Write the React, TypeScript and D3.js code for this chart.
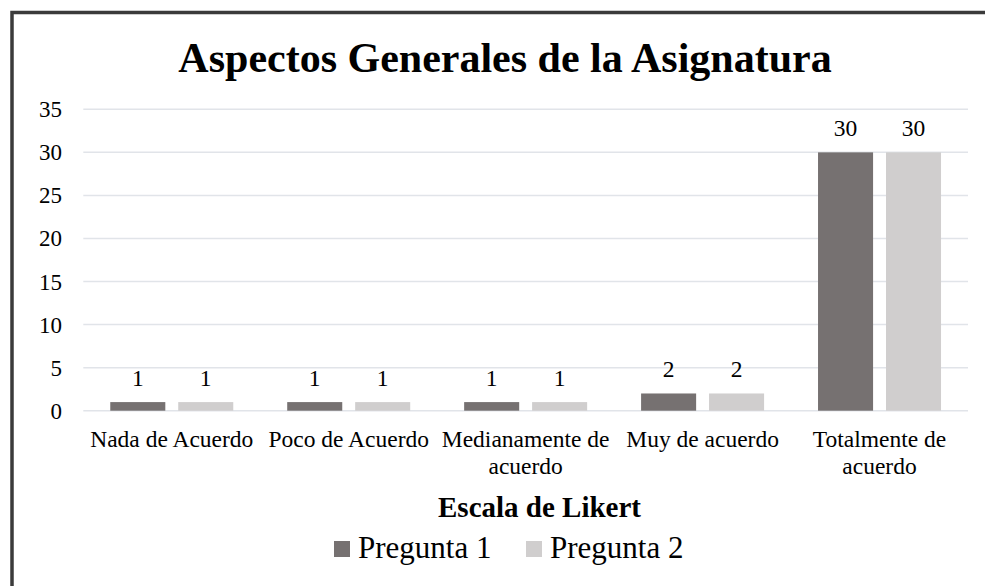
import React from 'react';
import * as d3 from 'd3';

const categories = [
  ['Nada de Acuerdo'],
  ['Poco de Acuerdo'],
  ['Medianamente de', 'acuerdo'],
  ['Muy de acuerdo'],
  ['Totalmente de', 'acuerdo'],
];
const seriesNames = ['Pregunta 1', 'Pregunta 2'];
const pregunta1 = [1, 1, 1, 2, 30];
const pregunta2 = [1, 1, 1, 2, 30];
const yTicks = [0, 5, 10, 15, 20, 25, 30, 35];

const colors = ['#767171', '#d0cece'];
const font = '"Liberation Serif", "Times New Roman", serif';

export default function App() {
  const width = 985;
  const height = 586;
  const left = 83.3;
  const right = 968;
  const top = 109.3;
  const bottom = 410.7;

  const keys = categories.map((c) => c.join(' '));
  const x0 = d3.scaleBand<string>().domain(keys).range([left, right]).padding(0);
  const groupW = 123;
  const x1 = d3.scaleBand<string>().domain(seriesNames).range([0, groupW]).paddingInner(0.19);
  const y = d3.scaleLinear().domain([0, 35]).range([bottom, top]);

  const series = [pregunta1, pregunta2];

  return (
    <svg
      width={width}
      height={height}
      style={{ position: 'absolute', left: 0, top: 0, display: 'block' }}
      fontFamily={font}
    >
      <rect x={0} y={0} width={width} height={height} fill="#fff" />
      {/* outer frame: only left and top edges are in view */}
      <path d={`M12,${height} V12.5 H${width}`} fill="none" stroke="#3b3b3b" strokeWidth={3.5} />

      <text x={505} y={72} textAnchor="middle" fontSize={42} fontWeight="bold" fill="#000">
        Aspectos Generales de la Asignatura
      </text>

      {yTicks.map((t) => (
        <g key={t}>
          <line x1={left} x2={right} y1={y(t)} y2={y(t)} stroke="#e1e4e9" strokeWidth={1.5} />
          <text x={62} y={y(t) + 8} textAnchor="end" fontSize={23} fill="#000">
            {t}
          </text>
        </g>
      ))}

      {keys.map((k, i) => {
        const gx = (x0(k) ?? 0) + (x0.bandwidth() - groupW) / 2;
        return (
          <g key={k}>
            {series.map((s, j) => {
              const bx = gx + (x1(seriesNames[j]) ?? 0);
              const bw = x1.bandwidth();
              return (
                <g key={j}>
                  <rect x={bx} y={y(s[i])} width={bw} height={y(0) - y(s[i])} fill={colors[j]} />
                  <text x={bx + bw / 2} y={y(s[i]) - 16} textAnchor="middle" fontSize={23.5} fill="#000">
                    {s[i]}
                  </text>
                </g>
              );
            })}
            {categories[i].map((line, li) => (
              <text
                key={li}
                x={(x0(k) ?? 0) + x0.bandwidth() / 2}
                y={447 + li * 27}
                textAnchor="middle"
                fontSize={23.5}
                fill="#000"
              >
                {line}
              </text>
            ))}
          </g>
        );
      })}

      <text x={539.5} y={516.7} textAnchor="middle" fontSize={29} fontWeight="bold" fill="#000">
        Escala de Likert
      </text>

      {seriesNames.map((name, j) => {
        const lx = j === 0 ? 334 : 526;
        return (
          <g key={name}>
            <rect x={lx} y={541} width={16} height={16} fill={colors[j]} />
            <text x={lx + 24} y={558} fontSize={31} fill="#000">
              {name}
            </text>
          </g>
        );
      })}
    </svg>
  );
}
